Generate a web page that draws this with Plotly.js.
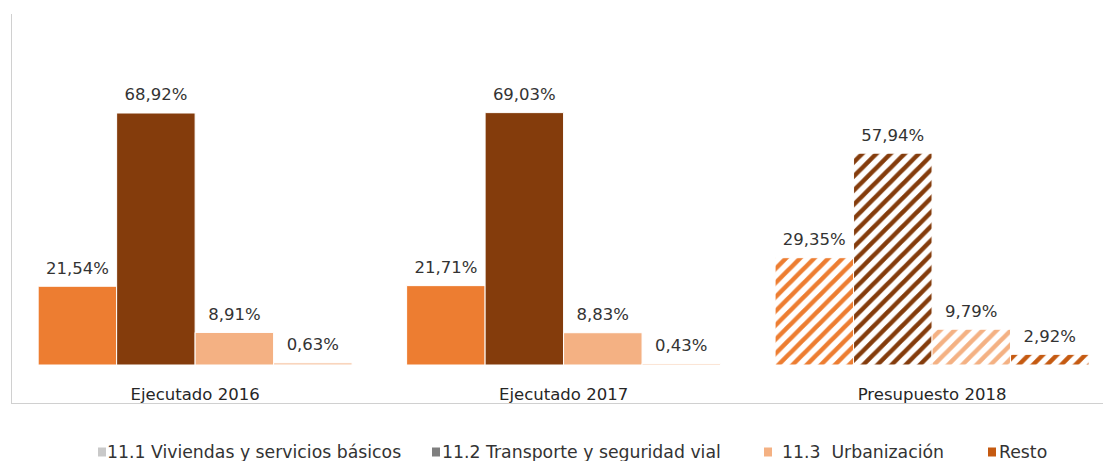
<!DOCTYPE html>
<html><head><meta charset="utf-8">
<script src="https://cdn.plot.ly/plotly-3.0.1.min.js"></script>
<style>html,body{margin:0;padding:0;background:#fff}#chart{width:1103px;height:461px}</style>
</head><body><div id="chart"></div>
<script>
// ---- data ----
const categories = ['Ejecutado 2016', 'Ejecutado 2017', 'Presupuesto 2018'];
const seriesNames = ['11.1 Viviendas y servicios básicos', '11.2 Transporte y seguridad vial', '11.3  Urbanización', 'Resto'];
const viviendas = [21.54, 21.71, 29.35];
const transporte = [68.92, 69.03, 57.94];
const urbanizacion = [8.91, 8.83, 9.79];
const resto = [0.63, 0.43, 2.92];

// ---- styles ----
const barColors = [
  ['#ED7D31', '#ED7D31', '#ED7D31'],
  ['#843C0C', '#843C0C', '#843C0C'],
  ['#F4B183', '#F4B183', '#F4B183'],
  ['#F8CBAD', '#F8CBAD', '#C55A11']
];
const legendColors = ['#C9C9C9', '#7F7F7F', '#F4B183', '#C55A11'];
const patternShapes = ['', '', '/'];
const FONT = 'DejaVu Sans';
const GAP = 0.148;

const values = [viviendas, transporte, urbanizacion, resto];
const bars = values.map((v, i) => ({
  type: 'bar',
  name: seriesNames[i],
  x: categories,
  y: v,
  marker: {
    color: barColors[i],
    line: {color: '#FFFFFF', width: 1},
    pattern: {shape: patternShapes, bgcolor: '#FFFFFF', size: 10, solidity: 0.45, fillmode: 'replace'}
  },
  hoverinfo: 'skip',
  showlegend: false
}));
const labels = values.map((v, i) => ({
  type: 'scatter',
  mode: 'markers+text',
  x: categories,
  y: v,
  marker: {size: 12, opacity: 0},
  texttemplate: '%{y:.2f}%',
  textposition: 'top center',
  textfont: {family: FONT, size: 16.5, color: '#333333'},
  cliponaxis: false,
  hoverinfo: 'skip',
  showlegend: false
}));

// plot area in pixels: x 12..1103, y 14..403
const PL = 12, PR = 1103, PT = 14, PB = 403;
const px = x => (x - PL) / (PR - PL);
const py = y => (PB - y) / (PB - PT);

const legendText = [107, 442, 782, 999];
const legendBox = [98, 432, 764, 988];
const legendY = 452;

const annotations = seriesNames.map((n, i) => ({
  xref: 'paper', yref: 'paper', x: px(legendText[i] - 2), y: py(legendY),
  xanchor: 'left', yanchor: 'middle', showarrow: false,
  text: n, font: {family: FONT, size: 17.3, color: '#333333'}
}));
const shapes = legendColors.map((c, i) => ({
  type: 'rect', xref: 'paper', yref: 'paper',
  x0: px(legendBox[i]), x1: px(legendBox[i] + 8),
  y0: py(legendY + 4.5), y1: py(legendY - 4.5),
  fillcolor: c, line: {width: 0}
}));

const layout = {
  width: 1103, height: 461,
  margin: {l: PL, r: 1103 - PR, t: PT, b: 461 - PB, pad: 0},
  paper_bgcolor: '#FFFFFF', plot_bgcolor: '#FFFFFF',
  barmode: 'group', bargap: GAP, bargroupgap: 0,
  scattermode: 'group', scattergap: GAP,
  separators: ',.',
  font: {family: FONT, size: 16, color: '#333333'},
  showlegend: false,
  xaxis: {
    type: 'category', range: [-0.497, 2.464],
    showline: true, linecolor: '#D0D0D0', linewidth: 1,
    ticks: '', showgrid: false, zeroline: false,
    ticklabelposition: 'inside',
    tickfont: {family: FONT, size: 16.5, color: '#262626'},
    fixedrange: true
  },
  yaxis: {
    range: [-10.39, 96.0],
    showline: true, linecolor: '#D0D0D0', linewidth: 1,
    showgrid: false, zeroline: false, showticklabels: false, ticks: '',
    fixedrange: true
  },
  annotations: annotations,
  shapes: shapes
};

Plotly.newPlot('chart', bars.concat(labels), layout, {displayModeBar: false, staticPlot: true});
</script>
</body></html>
